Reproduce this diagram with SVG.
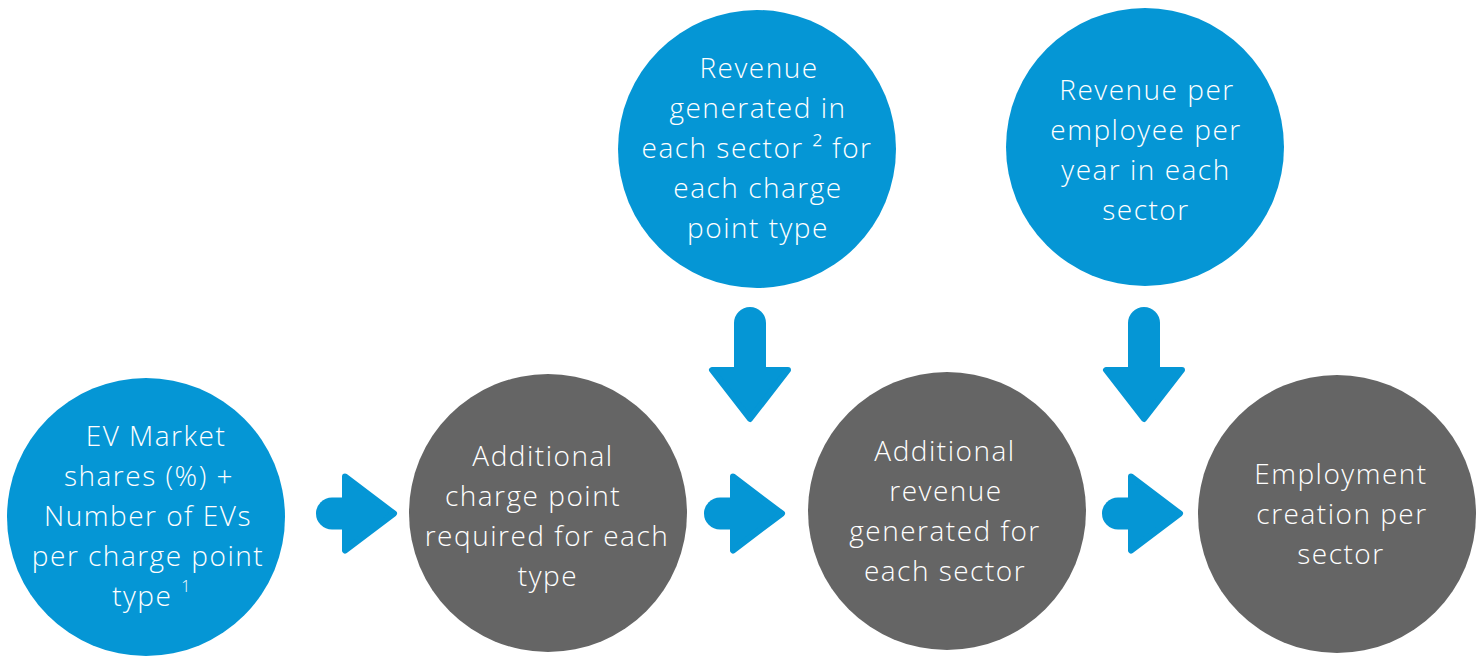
<svg xmlns="http://www.w3.org/2000/svg" width="1484" height="656" viewBox="0 0 1484 656">
<style>
.blue{fill:#0596d5}
.gray{fill:#656565}
.t{font-family:"Open Sans","Liberation Sans",sans-serif;font-size:28px;font-weight:300;fill:#ffffff;text-anchor:middle;letter-spacing:1.5px}
.arr{fill:#0596d5}
.tri{fill:#0596d5;stroke:#0596d5;stroke-width:6;stroke-linejoin:round}
</style>
<defs>
<g id="rightArrow">
<path class="arr" d="M1,-16 H-10 A16,16 0 0 0 -10,16 H1 Z"/>
<polygon class="tri" points="3,-37 52,0 3,37"/>
</g>
<g id="downArrow">
<path class="arr" d="M-16,1 V-44 A16,16 0 0 1 16,-44 V1 Z"/>
<polygon class="tri" points="-38,3 38,3 0,52"/>
</g>
</defs>
<g id="connectors">
<use href="#rightArrow" transform="translate(342,513.5)"/>
<use href="#rightArrow" transform="translate(730,513.5)"/>
<use href="#rightArrow" transform="translate(1128,513.5)"/>
<use href="#downArrow" transform="translate(750,367)"/>
<use href="#downArrow" transform="translate(1144,367)"/>
</g>
<g id="node-ev-market">
<circle class="blue" cx="146" cy="517" r="139"/>
<text class="t"><tspan x="156" y="446">EV Market</tspan><tspan x="149" y="486">shares (%) +</tspan><tspan x="148" y="526">Number of EVs</tspan><tspan x="148" y="566">per charge point</tspan><tspan x="152" y="606">type <tspan font-size="16" dy="-14">1</tspan></tspan></text>
</g>
<g id="node-charge-point">
<circle class="gray" cx="548" cy="513" r="139"/>
<text class="t"><tspan x="543" y="466">Additional</tspan><tspan x="533" y="506">charge point</tspan><tspan x="547" y="546">required for each</tspan><tspan x="548" y="586">type</tspan></text>
</g>
<g id="node-revenue-sector">
<circle class="blue" cx="757" cy="149" r="139"/>
<text class="t"><tspan x="759" y="78">Revenue</tspan><tspan x="758" y="118">generated in</tspan><tspan x="757" y="158">each sector ² for</tspan><tspan x="758" y="198">each charge</tspan><tspan x="758" y="238">point type</tspan></text>
</g>
<g id="node-additional-revenue">
<circle class="gray" cx="947" cy="511" r="139"/>
<text class="t"><tspan x="945" y="461">Additional</tspan><tspan x="946" y="501">revenue</tspan><tspan x="945" y="541">generated for</tspan><tspan x="945" y="581">each sector</tspan></text>
</g>
<g id="node-revenue-employee">
<circle class="blue" cx="1145" cy="147" r="139"/>
<text class="t"><tspan x="1147" y="100">Revenue per</tspan><tspan x="1146" y="140">employee per</tspan><tspan x="1146" y="180">year in each</tspan><tspan x="1146" y="220">sector</tspan></text>
</g>
<g id="node-employment">
<circle class="gray" cx="1337" cy="514" r="139"/>
<text class="t"><tspan x="1341" y="484">Employment</tspan><tspan x="1342" y="524">creation per</tspan><tspan x="1341" y="564">sector</tspan></text>
</g>
</svg>
